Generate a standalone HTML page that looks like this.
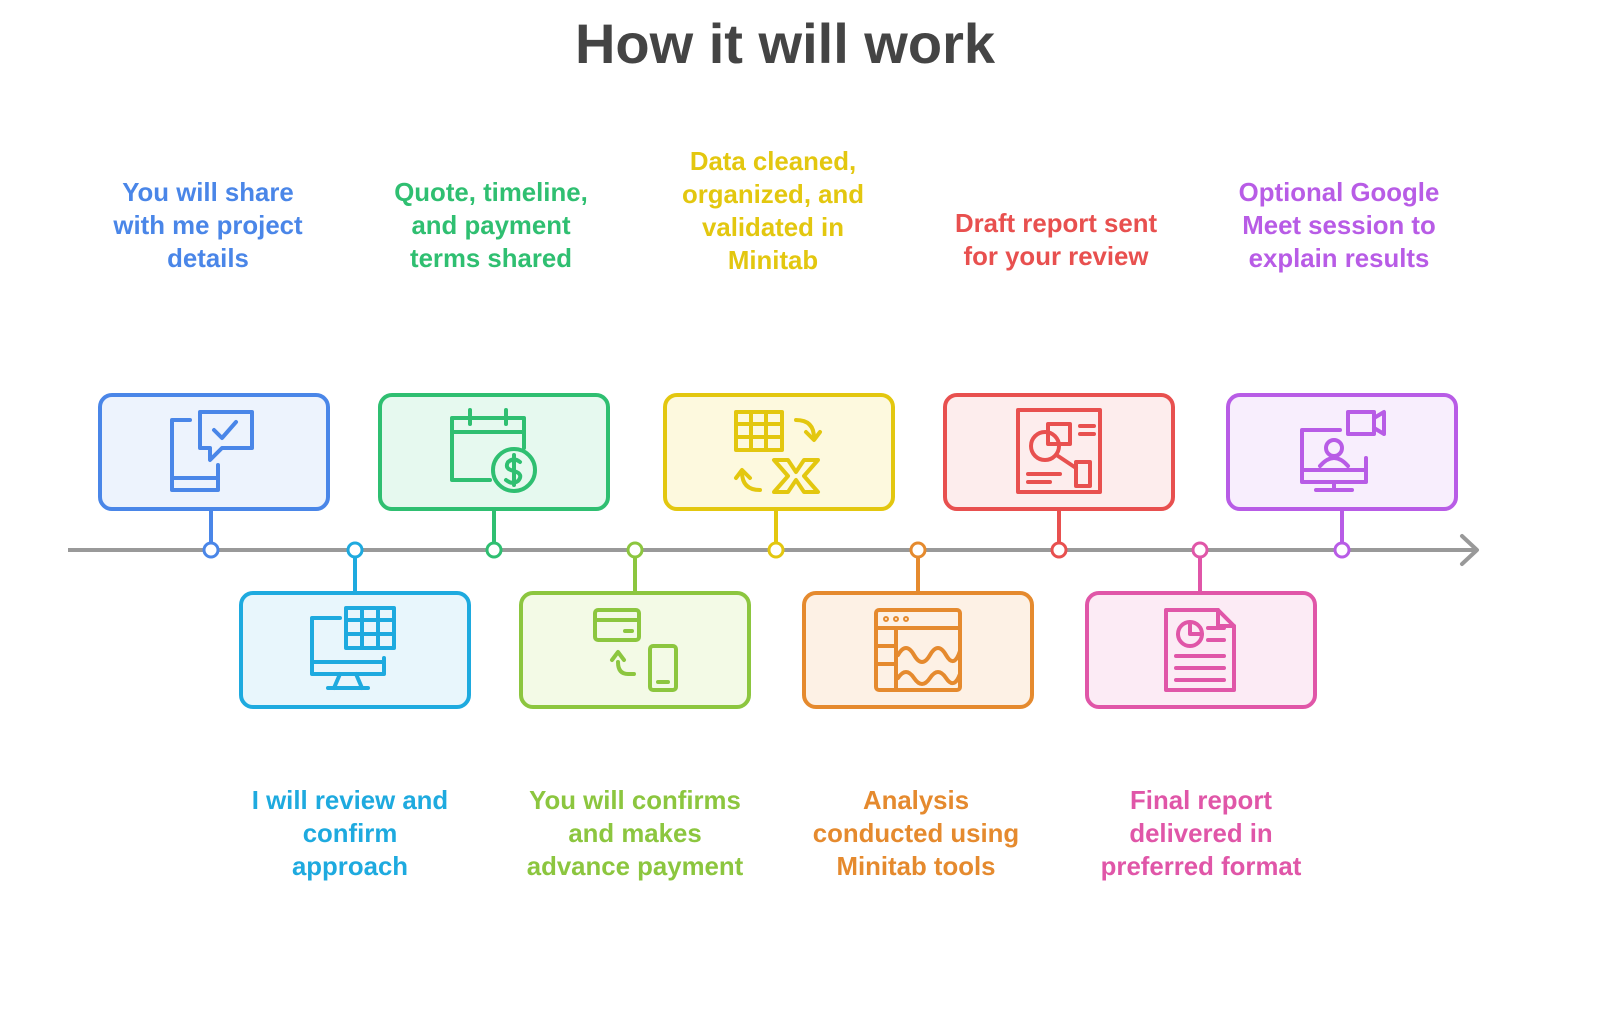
<!DOCTYPE html>
<html><head><meta charset="utf-8"><style>
html,body{margin:0;padding:0;background:#fff;}
svg{display:block;}
text{font-family:"Liberation Sans",sans-serif;font-weight:bold;}
</style></head><body>
<svg width="1600" height="1009" viewBox="0 0 1600 1009" xmlns="http://www.w3.org/2000/svg">
<text x="785" y="63" text-anchor="middle" font-size="56" fill="#444">How it will work</text>

<line x1="68" y1="550" x2="1476" y2="550" stroke="#999" stroke-width="4"/>
<polyline points="1462,536 1477,550 1462,564" fill="none" stroke="#999" stroke-width="4" stroke-linecap="round" stroke-linejoin="round"/>

<g stroke-width="4" fill="none">
<rect x="100" y="395" width="228" height="114" rx="12" fill="#edf3fd" stroke="#4a86e8"/>
<rect x="380" y="395" width="228" height="114" rx="12" fill="#e6f9ef" stroke="#2fbf71"/>
<rect x="665" y="395" width="228" height="114" rx="12" fill="#fdf9de" stroke="#e3c70f"/>
<rect x="945" y="395" width="228" height="114" rx="12" fill="#fdeded" stroke="#e8504f"/>
<rect x="1228" y="395" width="228" height="114" rx="12" fill="#f8eefd" stroke="#b85ce6"/>
<rect x="241" y="593" width="228" height="114" rx="12" fill="#e8f6fc" stroke="#1eaadf"/>
<rect x="521" y="593" width="228" height="114" rx="12" fill="#f3fae6" stroke="#8cc63f"/>
<rect x="804" y="593" width="228" height="114" rx="12" fill="#fdf1e5" stroke="#e58a2e"/>
<rect x="1087" y="593" width="228" height="114" rx="12" fill="#fcebf5" stroke="#e056a8"/>
<line x1="211" y1="509" x2="211" y2="543" stroke="#4a86e8"/>
<line x1="494" y1="509" x2="494" y2="543" stroke="#2fbf71"/>
<line x1="776" y1="509" x2="776" y2="543" stroke="#e3c70f"/>
<line x1="1059" y1="509" x2="1059" y2="543" stroke="#e8504f"/>
<line x1="1342" y1="509" x2="1342" y2="543" stroke="#b85ce6"/>
<line x1="355" y1="557" x2="355" y2="593" stroke="#1eaadf"/>
<line x1="635" y1="557" x2="635" y2="593" stroke="#8cc63f"/>
<line x1="918" y1="557" x2="918" y2="593" stroke="#e58a2e"/>
<line x1="1200" y1="557" x2="1200" y2="593" stroke="#e056a8"/>
</g>
<g stroke-width="3" fill="#fff">
<circle cx="211" cy="550" r="7" stroke="#4a86e8"/>
<circle cx="355" cy="550" r="7" stroke="#1eaadf"/>
<circle cx="494" cy="550" r="7" stroke="#2fbf71"/>
<circle cx="635" cy="550" r="7" stroke="#8cc63f"/>
<circle cx="776" cy="550" r="7" stroke="#e3c70f"/>
<circle cx="918" cy="550" r="7" stroke="#e58a2e"/>
<circle cx="1059" cy="550" r="7" stroke="#e8504f"/>
<circle cx="1200" cy="550" r="7" stroke="#e056a8"/>
<circle cx="1342" cy="550" r="7" stroke="#b85ce6"/>
</g>

<g fill="none" stroke-width="4" stroke-linejoin="round" stroke-linecap="round">
<g stroke="#4a86e8">
<path d="M190 420 h-18 v70 h46 v-25"/><line x1="172" y1="478" x2="218" y2="478"/>
<path d="M200 412 h52 v36 h-30 l-12 12 v-12 h-10 z"/><polyline points="214,430 222,438 236,422"/>
</g>
<g stroke="#2fbf71">
<path d="M490 480 h-38 v-62 h72 v30"/><line x1="452" y1="432" x2="524" y2="432"/>
<line x1="470" y1="410" x2="470" y2="424"/><line x1="506" y1="410" x2="506" y2="424"/>
<circle cx="514" cy="470" r="21"/><path d="M520 462 q-6 -5 -12 0 q-4 7 6 9 q10 3 4 10 q-6 4 -12 -1 M514 455 v30"/>
</g>
<g stroke="#e3c70f">
<rect x="736" y="412" width="46" height="38"/><line x1="736" y1="424" x2="782" y2="424"/><line x1="736" y1="437" x2="782" y2="437"/><line x1="751" y1="412" x2="751" y2="450"/><line x1="766" y1="412" x2="766" y2="450"/>
<path d="M796 420 q18 0 18 18"/><polyline points="806,432 814,440 820,432"/>
<path d="M760 490 q-18 0 -18 -18"/><polyline points="736,478 742,470 750,478"/>
<path d="M774 460 h14 l8 12 l8 -12 h14 l-14 16 l14 16 h-14 l-8 -12 l-8 12 h-14 l14 -16 z"/>
</g>
<g stroke="#e8504f">
<rect x="1018" y="410" width="82" height="82"/><circle cx="1045" cy="446" r="14"/><rect x="1048" y="424" width="22" height="20"/><rect x="1076" y="462" width="14" height="24"/><line x1="1058" y1="456" x2="1076" y2="468"/>
<line x1="1080" y1="426" x2="1094" y2="426"/><line x1="1080" y1="434" x2="1094" y2="434"/><line x1="1028" y1="474" x2="1060" y2="474"/><line x1="1028" y1="482" x2="1050" y2="482"/>
</g>
<g stroke="#b85ce6">
<path d="M1340 430 h-38 v52 h64 v-24"/><line x1="1302" y1="470" x2="1366" y2="470"/><line x1="1334" y1="482" x2="1334" y2="490"/><line x1="1316" y1="490" x2="1352" y2="490"/>
<circle cx="1334" cy="448" r="8"/><path d="M1320 466 q14 -16 28 0"/>
<rect x="1348" y="412" width="26" height="22"/><polyline points="1374,418 1384,412 1384,434 1374,428"/>
</g>
<g stroke="#1eaadf">
<path d="M340 618 h-28 v56 h72 v-16"/><line x1="312" y1="662" x2="384" y2="662"/><path d="M340 674 l-6 14 M356 674 l6 14 M328 688 h40"/>
<rect x="346" y="608" width="48" height="40"/><line x1="346" y1="620" x2="394" y2="620"/><line x1="346" y1="634" x2="394" y2="634"/><line x1="362" y1="608" x2="362" y2="648"/><line x1="378" y1="608" x2="378" y2="648"/>
</g>
<g stroke="#8cc63f">
<rect x="595" y="610" width="44" height="30" rx="3"/><line x1="595" y1="620" x2="639" y2="620"/><line x1="625" y1="631" x2="632" y2="631"/>
<rect x="650" y="646" width="26" height="44" rx="3"/><line x1="658" y1="682" x2="668" y2="682"/>
<path d="M634 674 h-6 q-10 0 -10 -12"/><polyline points="612,660 618,652 624,660"/>
</g>
<g stroke="#e58a2e">
<rect x="876" y="610" width="84" height="80" rx="3"/><line x1="876" y1="628" x2="960" y2="628"/><line x1="896" y1="628" x2="896" y2="690"/>
<line x1="876" y1="646" x2="896" y2="646"/><line x1="876" y1="664" x2="896" y2="664"/>
<path d="M898 655 q8 -14 16 0 t16 0 t16 0 t14 -4"/><path d="M898 678 q8 -12 16 0 t16 0 t16 0 t14 -4"/>
<circle cx="886" cy="619" r="1"/><circle cx="896" cy="619" r="1"/><circle cx="906" cy="619" r="1"/>
</g>
<g stroke="#e056a8">
<path d="M1166 610 h52 l16 16 v64 h-68 z"/><path d="M1218 610 v16 h16"/>
<circle cx="1190" cy="634" r="12"/><path d="M1190 622 v12 h12"/>
<line x1="1208" y1="628" x2="1224" y2="628"/><line x1="1208" y1="640" x2="1224" y2="640"/>
<line x1="1176" y1="656" x2="1224" y2="656"/><line x1="1176" y1="668" x2="1224" y2="668"/><line x1="1176" y1="680" x2="1224" y2="680"/>
</g>
</g>

<g font-size="25.8" text-anchor="middle">
<text fill="#4a86e8"><tspan x="208" y="201">You will share</tspan><tspan x="208" y="234">with me project</tspan><tspan x="208" y="267">details</tspan></text>
<text fill="#2fbf71"><tspan x="491" y="201">Quote, timeline,</tspan><tspan x="491" y="234">and payment</tspan><tspan x="491" y="267">terms shared</tspan></text>
<text fill="#e3c70f"><tspan x="773" y="170">Data cleaned,</tspan><tspan x="773" y="203">organized, and</tspan><tspan x="773" y="236">validated in</tspan><tspan x="773" y="269">Minitab</tspan></text>
<text fill="#e8504f"><tspan x="1056" y="232">Draft report sent</tspan><tspan x="1056" y="265">for your review</tspan></text>
<text fill="#b85ce6"><tspan x="1339" y="201">Optional Google</tspan><tspan x="1339" y="234">Meet session to</tspan><tspan x="1339" y="267">explain results</tspan></text>
<text fill="#1eaadf"><tspan x="350" y="809">I will review and</tspan><tspan x="350" y="842">confirm</tspan><tspan x="350" y="875">approach</tspan></text>
<text fill="#8cc63f"><tspan x="635" y="809">You will confirms</tspan><tspan x="635" y="842">and makes</tspan><tspan x="635" y="875">advance payment</tspan></text>
<text fill="#e58a2e"><tspan x="916" y="809">Analysis</tspan><tspan x="916" y="842">conducted using</tspan><tspan x="916" y="875">Minitab tools</tspan></text>
<text fill="#e056a8"><tspan x="1201" y="809">Final report</tspan><tspan x="1201" y="842">delivered in</tspan><tspan x="1201" y="875">preferred format</tspan></text>
</g>
</svg>
</body></html>
